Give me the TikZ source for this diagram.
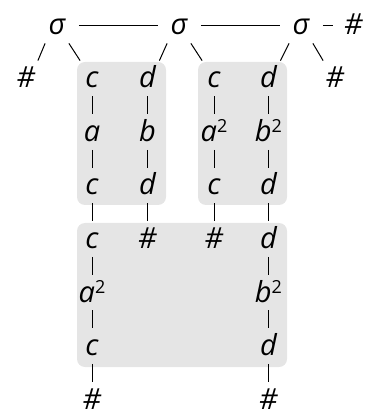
\documentclass[tikz,border=0pt]{standalone}
\usepackage{fontspec}
\setmainfont{Open Sans}
\newcommand{\sqd}[1]{#1\raisebox{4.5pt}{\upshape\fontsize{9}{9}\selectfont 2}}

\begin{document}
\begin{tikzpicture}[
  x=0.5pt, y=-0.5pt,
  sym/.style={anchor=base, font=\fontsize{14.5}{16}\selectfont\itshape,
              inner xsep=0pt, inner ysep=2.5pt, text height=11pt,
              text depth=1.5pt, minimum width=11.5pt},
  panel/.style={fill=gray!20, rounded corners=4pt},
  bond/.style={line width=0.5pt},
  hbond/.style={bond, shorten <=5pt, shorten >=4.5pt},
]
\useasboundingbox (0,0) rectangle (368,416);

% Panels
\fill[panel] (77,62) rectangle (166,205);
\fill[panel] (198,62) rectangle (287,205);
\fill[panel] (77,223) rectangle (287,367);

% Top row
\node[sym] (s1) at (57,35) {σ};
\node[sym] (s2) at (179,35) {σ};
\node[sym] (s3) at (301,35) {σ};
\node[sym] (ht) at (353.5,35) {\#};
\node[sym] (hl) at (26,88) {\#};
\node[sym] (hr) at (335,88) {\#};

% Left panel
\node[sym] (lc)  at (92,88)    {c};
\node[sym] (la)  at (92,141.5) {a};
\node[sym] (lc2) at (92,195)   {c};
\node[sym] (ld)  at (147.5,88)    {d};
\node[sym] (lb)  at (147.5,141.5) {b};
\node[sym] (ld2) at (147.5,195)   {d};

% Right panel
\node[sym] (rc)  at (214,88)    {c};
\node[sym] (ra)  at (214,141.5) {\sqd{a}};
\node[sym] (rc2) at (214,195)   {c};
\node[sym] (rd)  at (268.5,88)    {d};
\node[sym] (rb)  at (268.5,141.5) {\sqd{b}};
\node[sym] (rd2) at (268.5,195)   {d};

% Bottom panel
\node[sym] (bc)  at (92,248.5)    {c};
\node[sym] (bh1) at (147.5,248.5) {\#};
\node[sym] (bh2) at (214,248.5)   {\#};
\node[sym] (bd)  at (268.5,248.5) {d};
\node[sym] (ba)  at (92,302)      {\sqd{a}};
\node[sym] (bb)  at (268.5,302)   {\sqd{b}};
\node[sym] (bc2) at (92,355.5)    {c};
\node[sym] (bd2) at (268.5,355.5) {d};
\node[sym] (bh3) at (92,409)      {\#};
\node[sym] (bh4) at (268.5,409)   {\#};

% Top connections
\draw[hbond] (s1) -- (s2);
\draw[hbond] (s2) -- (s3);
\draw[hbond] (s3) -- (ht);
\draw[bond] (s1.south west) -- (hl.north east);
\draw[bond] (s1.south east) -- (lc.north west);
\draw[bond] (s2.south west) -- (ld.north east);
\draw[bond] (s2.south east) -- (rc.north west);
\draw[bond] (s3.south west) -- (rd.north east);
\draw[bond] (s3.south east) -- (hr.north west);

% Columns
\draw[bond] (lc) -- (la) -- (lc2) -- (bc) -- (ba) -- (bc2) -- (bh3);
\draw[bond] (ld) -- (lb) -- (ld2) -- (bh1);
\draw[bond] (rc) -- (ra) -- (rc2) -- (bh2);
\draw[bond] (rd) -- (rb) -- (rd2) -- (bd) -- (bb) -- (bd2) -- (bh4);
\end{tikzpicture}
\end{document}
